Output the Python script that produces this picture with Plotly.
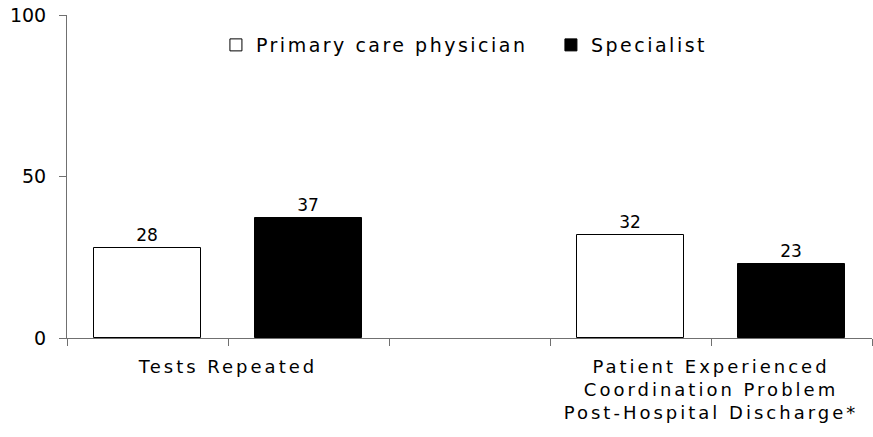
import plotly.graph_objects as go

categories = ["Tests Repeated",
              "Patient Experienced<br>Coordination Problem<br>Post-Hospital Discharge*"]
series_names = ["Primary care physician", "Specialist"]
primary_care = [28, 32]
specialist = [37, 23]
y_ticks = [0, 50, 100]

FONT = "DejaVu Sans"
group_step = 3
bar_w = 0.665

fig = go.Figure()
styles = [dict(color="white", line=dict(color="black", width=1)),
          dict(color="black", line=dict(color="black", width=1))]
for j, (name, vals) in enumerate(zip(series_names, [primary_care, specialist])):
    xs = [group_step * i + 0.5 + j for i in range(len(categories))]
    fig.add_trace(go.Bar(
        x=xs, y=vals, name=name, width=bar_w, marker=styles[j],
        text=vals, textposition="outside", cliponaxis=False,
        textfont=dict(family=FONT, size=17, color="black"),
    ))

cat_pos = [group_step * i + 1 for i in range(len(categories))]
fig.update_layout(
    width=873, height=437,
    margin=dict(l=67, r=1, t=15, b=99, autoexpand=False),
    paper_bgcolor="white", plot_bgcolor="white",
    font=dict(family=FONT, color="black"),
    showlegend=True,
    legend=dict(orientation="h", x=0.185, y=0.907, xanchor="left", yanchor="middle",
                entrywidth=290, font=dict(family=FONT, size=19, color="black"),
                bgcolor="rgba(0,0,0,0)"),
    xaxis=dict(range=[0, 5], showgrid=False, zeroline=False, automargin=False,
               showline=True, linecolor="#707070", linewidth=1,
               tickvals=cat_pos, ticktext=categories, ticks="outside",
               ticklen=7, tickcolor="#707070", ticklabelstandoff=5,
               tickfont=dict(family=FONT, size=18, color="black"),
               minor=dict(tickvals=list(range(0, 6)), ticks="outside", ticklen=7,
                          tickcolor="#707070")),
    yaxis=dict(range=[0, 100], showgrid=False, zeroline=False, automargin=False,
               showline=True, linecolor="#707070", linewidth=1,
               tickvals=y_ticks, ticks="outside", ticklen=7, tickcolor="#707070",
               ticklabelstandoff=9,
               tickfont=dict(family=FONT, size=19, color="black")),
    bargap=0,
)

post = """
document.body.style.margin = '0';
var gd = document.getElementById('{plot_id}');
function sp(){
  gd.querySelectorAll('.legendtext').forEach(function(t){ t.style.letterSpacing='2.5px'; });
  gd.querySelectorAll('.xtick text').forEach(function(t){ t.style.letterSpacing='3px'; });
}
sp();
gd.on('plotly_afterplot', sp);
"""
fig.write_html("out.html", post_script=post, config={"displayModeBar": False})
